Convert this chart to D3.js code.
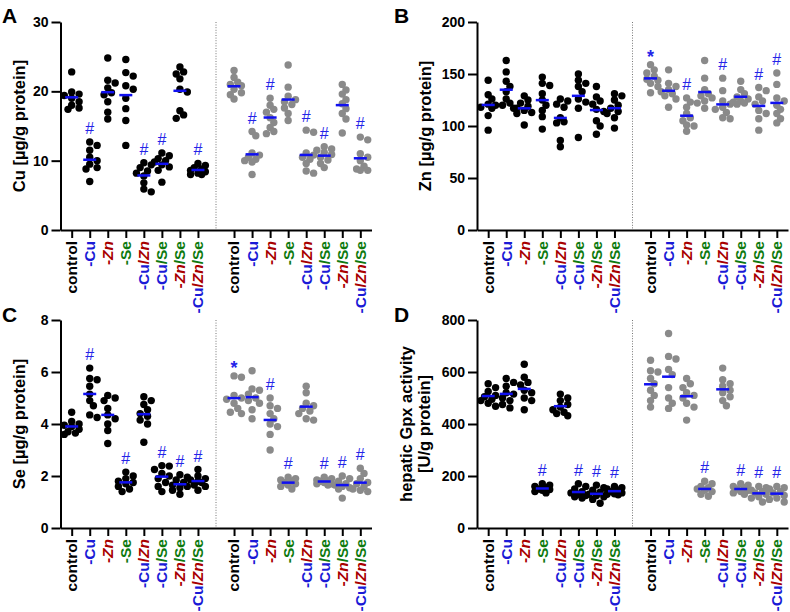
<!DOCTYPE html>
<html>
<head>
<meta charset="utf-8">
<script src="https://cdn.jsdelivr.net/npm/d3@7"></script>
<style>
body { margin: 0; background: #fff; }
text { font-family: "Liberation Sans", Arial, sans-serif; }
.axis .domain, .axis .tick line { stroke: #000; stroke-width: 2; }
.axis text { font-size: 14px; font-weight: bold; fill: #000; }
</style>
</head>
<body>
<svg id="chart" width="790" height="612"></svg>
<script>
var groups = ["control", "-Cu", "-Zn", "-Se", "-Cu/Zn", "-Cu/Se", "-Zn/Se", "-Cu/Zn/Se"];

// panel A: Cu
var cuTicks = [0, 10, 20, 30];
var cuBlack = [
    [22.8, 19.9, 19.6, 19.4, 19.0, 18.5, 18.0, 17.6, 17.4],
    [12.7, 12.2, 11.5, 10.5, 10.0, 9.5, 9.0, 8.8, 7.0],
    [24.8, 21.6, 21.2, 20.5, 19.8, 19.5, 18.5, 17.0, 16.0],
    [24.6, 22.7, 22.2, 20.8, 20.3, 19.0, 17.5, 15.8, 12.2],
    [9.7, 9.4, 9.0, 8.5, 8.2, 7.8, 6.8, 5.9, 5.5],
    [11.1, 10.7, 10.3, 10.0, 9.8, 9.4, 9.1, 8.6, 6.9],
    [23.5, 22.8, 22.5, 21.8, 20.3, 19.9, 17.2, 16.6, 16.1],
    [9.6, 9.3, 9.0, 8.8, 8.6, 8.4, 8.2, 8.0, 8.0]
];
var cuGrey = [
    [23.0, 22.0, 21.3, 21.0, 20.8, 20.3, 19.8, 19.5, 18.9],
    [14.2, 13.6, 11.1, 10.8, 10.5, 10.2, 10.0, 9.8, 8.0],
    [19.0, 18.0, 17.4, 17.0, 16.2, 15.5, 14.8, 14.2, 13.9],
    [23.8, 20.6, 19.3, 18.8, 18.5, 18.1, 17.6, 16.8, 15.8],
    [14.4, 14.1, 11.1, 10.8, 10.5, 10.2, 9.6, 8.5, 8.2],
    [12.0, 11.7, 11.5, 11.2, 10.9, 10.5, 10.1, 9.6, 9.0],
    [21.0, 20.2, 19.6, 18.8, 18.2, 17.5, 16.8, 16.0, 14.0],
    [13.4, 13.0, 11.0, 10.5, 10.0, 9.2, 8.8, 8.6, 8.6]
];
var cuMarks = ["", "#", "", "", "#", "#", "", "#", "", "#", "#", "", "#", "#", "", "#"];

// panel B: Zn
var znTicks = [0, 50, 100, 150, 200];
var znBlack = [
    [144, 130, 126, 121, 120, 118, 117, 110, 96],
    [163, 152, 143, 138, 133, 126, 122, 120, 117],
    [129, 125, 122, 119, 117, 115, 113, 112, 101],
    [147, 141, 139, 131, 125, 120, 115, 109, 97],
    [126, 124, 121, 118, 108, 104, 103, 86, 80],
    [150, 144, 141, 138, 133, 126, 123, 117, 89],
    [138, 128, 124, 121, 116, 114, 105, 100, 92],
    [131, 129, 125, 120, 117, 114, 112, 108, 98]
];
var znGrey = [
    [159, 154, 151, 148, 145, 144, 141, 138, 132],
    [154, 141, 138, 135, 133, 131, 129, 126, 118],
    [127, 123, 118, 112, 108, 105, 101, 100, 95],
    [163, 146, 135, 131, 129, 127, 124, 122, 117],
    [146, 134, 124, 121, 118, 116, 113, 108, 107],
    [143, 135, 131, 128, 126, 124, 123, 122, 121],
    [137, 134, 128, 124, 121, 115, 112, 107, 96],
    [151, 140, 127, 124, 120, 116, 112, 107, 103]
];
var znMarks = ["", "", "", "", "", "", "", "", "*", "", "#", "", "#", "", "#", "#"];

// panel C: Se
var seTicks = [0, 2, 4, 6, 8];
var seBlack = [
    [4.45, 4.1, 4.0, 3.95, 3.9, 3.8, 3.7, 3.65, 3.6],
    [6.15, 5.75, 5.7, 5.45, 5.15, 4.9, 4.7, 4.35, 4.25],
    [5.1, 5.0, 4.9, 4.6, 4.35, 4.2, 4.0, 3.75, 3.25],
    [2.15, 2.0, 1.9, 1.8, 1.75, 1.7, 1.6, 1.5, 1.4],
    [5.05, 4.9, 4.75, 4.55, 4.4, 4.3, 4.15, 4.0, 3.3],
    [2.4, 2.38, 2.25, 2.1, 2.0, 1.9, 1.75, 1.6, 1.4],
    [2.05, 1.95, 1.85, 1.75, 1.65, 1.6, 1.55, 1.45, 1.3],
    [2.25, 2.0, 1.9, 1.85, 1.8, 1.75, 1.65, 1.6, 1.45]
];
var seGrey = [
    [5.85, 5.8, 5.1, 5.0, 4.95, 4.8, 4.6, 4.45, 4.4],
    [6.05, 5.35, 5.3, 5.15, 5.0, 4.9, 4.8, 4.55, 4.2],
    [5.0, 4.7, 4.6, 4.4, 4.2, 4.0, 3.9, 3.6, 3.0],
    [1.95, 1.9, 1.85, 1.8, 1.75, 1.7, 1.65, 1.6, 1.5],
    [5.45, 5.2, 4.8, 4.7, 4.6, 4.5, 4.4, 4.2, 4.15],
    [1.95, 1.9, 1.85, 1.8, 1.8, 1.75, 1.7, 1.7, 1.65],
    [2.0, 1.9, 1.8, 1.7, 1.65, 1.6, 1.55, 1.5, 1.15],
    [2.3, 2.1, 1.9, 1.75, 1.7, 1.6, 1.5, 1.45, 1.4]
];
var seMarks = ["", "#", "", "#", "", "#", "#", "#", "*", "", "#", "#", "", "#", "#", "#"];

// panel D: hepatic Gpx activity
var gpxTicks = [0, 200, 400, 600, 800];
var gpxBlack = [
    [555, 540, 525, 510, 505, 495, 490, 480, 468],
    [575, 560, 545, 520, 515, 500, 490, 475, 462],
    [630, 580, 560, 550, 530, 520, 500, 490, 455],
    [170, 165, 160, 155, 150, 148, 145, 140, 135],
    [515, 500, 490, 475, 465, 455, 445, 440, 432],
    [170, 160, 150, 140, 135, 130, 125, 120, 115],
    [165, 155, 145, 138, 130, 125, 120, 110, 95],
    [160, 155, 150, 145, 140, 135, 132, 130, 128]
];
var gpxGrey = [
    [645, 605, 600, 575, 555, 530, 510, 490, 465],
    [748, 660, 650, 610, 590, 540, 500, 480, 460],
    [575, 555, 540, 520, 510, 500, 480, 465, 415],
    [180, 170, 160, 155, 150, 145, 140, 130, 122],
    [615, 570, 555, 545, 530, 520, 505, 490, 470],
    [170, 165, 160, 155, 150, 145, 140, 135, 130],
    [160, 155, 145, 140, 135, 130, 120, 115, 100],
    [160, 155, 150, 140, 135, 125, 115, 110, 100]
];
var gpxMarks = ["", "", "", "#", "", "#", "#", "#", "", "", "", "#", "", "#", "#", "#"];

var elementColor = { Cu: "#1a1ad6", Zn: "#a80000", Se: "#0f7a0f" };
var statBlue = "#2424e8";

var panels = [
    { letter: "A", black: cuBlack, grey: cuGrey, marks: cuMarks, ticks: cuTicks, title: ["Cu [µg/g protein]"], left: 60.5, top: 22, lx: 2, ly: 23 },
    { letter: "B", black: znBlack, grey: znGrey, marks: znMarks, ticks: znTicks, title: ["Zn [µg/g protein]"], left: 477, top: 22, lx: 394, ly: 23 },
    { letter: "C", black: seBlack, grey: seGrey, marks: seMarks, ticks: seTicks, title: ["Se [µg/g protein]"], left: 60.5, top: 320, lx: 2, ly: 322 },
    { letter: "D", black: gpxBlack, grey: gpxGrey, marks: gpxMarks, ticks: gpxTicks, title: ["hepatic Gpx activity", "[U/g protein]"], left: 477, top: 320, lx: 394, ly: 322 }
];

var plotW = 311, plotH = 208, dotR = 3.7;
var svg = d3.select("#chart");

// small deterministic beeswarm: sideways offsets limited to +-2 radii,
// overlapping where the group is dense (as the original does)
var offsets = [0, 1, -1, 2, -2].map(function(k) { return k * dotR; });
function swarm(vals, cx, y) {
    var placed = [];
    vals.slice().sort(d3.descending).forEach(function(v) {
        var py = y(v), best = null, bestDist = -1;
        for (var k = 0; k < offsets.length; k++) {
            var px = cx + offsets[k];
            var dmin = d3.min(placed, function(p) { return Math.hypot(p.x - px, p.y - py); });
            if (dmin === undefined) dmin = Infinity;
            if (dmin >= dotR * 1.5) { best = px; break; }
            if (dmin > bestDist) { bestDist = dmin; best = px; }
        }
        placed.push({ x: best, y: py });
    });
    return placed;
}

function labelTokens(name) {
    return name.match(/[-\/]?[A-Za-z]+/g);
}

panels.forEach(function(p) {
    var g = svg.append("g");
    var slots = d3.range(17);
    var x = d3.scalePoint().domain(slots).range([p.left, p.left + plotW]).padding(0.62);
    var y = d3.scaleLinear().domain([0, d3.max(p.ticks)]).range([p.top + plotH, p.top]);
    var bottom = p.top + plotH;

    // dotted divider between the two sets
    g.append("line")
        .attr("x1", x(8)).attr("x2", x(8))
        .attr("y1", p.top).attr("y2", bottom)
        .attr("stroke", "#777").attr("stroke-width", 1)
        .attr("stroke-dasharray", "1,1.6");

    g.append("g")
        .attr("class", "axis")
        .attr("transform", "translate(" + p.left + ",0)")
        .call(d3.axisLeft(y).tickValues(p.ticks).tickSize(9).tickSizeOuter(0).tickPadding(3));

    g.append("g")
        .attr("class", "axis")
        .attr("transform", "translate(0," + bottom + ")")
        .call(d3.axisBottom(x).tickValues(slots.filter(function(s) { return s !== 8; }))
            .tickSize(8).tickSizeOuter(0).tickFormat(""));

    // group labels, rotated, coloured per element
    slots.filter(function(s) { return s !== 8; }).forEach(function(s) {
        var name = groups[s < 8 ? s : s - 9];
        var t = g.append("text")
            .attr("transform", "translate(" + x(s) + "," + (bottom + 11) + ") rotate(-90)")
            .attr("text-anchor", "end")
            .attr("dy", "0.35em")
            .style("font-size", "15.5px")
            .style("font-weight", "bold");
        if (name === "control") {
            t.append("tspan").attr("fill", "#000").text(name);
        } else {
            labelTokens(name).forEach(function(tok) {
                var el = tok.slice(1);
                var col = elementColor[el];
                t.append("tspan").attr("fill", col).text(tok.charAt(0));
                t.append("tspan").attr("fill", col)
                    .style("font-style", el === "Zn" ? "italic" : "normal")
                    .text(el);
            });
        }
    });

    // dots, means and stat marks
    [p.black, p.grey].forEach(function(set, si) {
        set.forEach(function(vals, gi) {
            var s = si === 0 ? gi : gi + 9;
            var cx = x(s);
            g.append("g").selectAll("circle")
                .data(swarm(vals, cx, y))
                .join("circle")
                .attr("cx", function(d) { return d.x; })
                .attr("cy", function(d) { return d.y; })
                .attr("r", dotR)
                .attr("fill", si === 0 ? "#000" : "#8a8a8a");

            var m = d3.mean(vals);
            g.append("line")
                .attr("x1", cx - 6.5).attr("x2", cx + 6.5)
                .attr("y1", y(m)).attr("y2", y(m))
                .attr("stroke", "#1010f0").attr("stroke-width", 2.5);

            var mark = p.marks[si === 0 ? gi : gi + 8];
            if (mark) {
                var top = y(d3.max(vals));
                g.append("text")
                    .attr("x", cx)
                    .attr("y", mark === "*" ? top - 2 : top - 8)
                    .attr("text-anchor", "middle")
                    .attr("fill", statBlue)
                    .style("font-size", mark === "*" ? "18px" : "16px")
                    .style("font-weight", mark === "*" ? "bold" : "normal")
                    .text(mark);
            }
        });
    });

    // y title
    var cy = p.top + plotH / 2;
    var tx = p.left < 100 ? 25 : (p.title.length > 1 ? 430 : 431);
    var title = g.append("text")
        .attr("transform", "translate(" + tx + "," + cy + ") rotate(-90)")
        .attr("text-anchor", "middle")
        .style("font-size", "16.5px")
        .style("font-weight", "bold");
    p.title.forEach(function(line, i, arr) {
        title.append("tspan")
            .attr("x", 0)
            .attr("y", (i - arr.length + 1) * 18)
            .text(line);
    });

    svg.append("text")
        .attr("x", p.lx).attr("y", p.ly)
        .style("font-size", "21px")
        .style("font-weight", "bold")
        .text(p.letter);
});
</script>
</body>
</html>
